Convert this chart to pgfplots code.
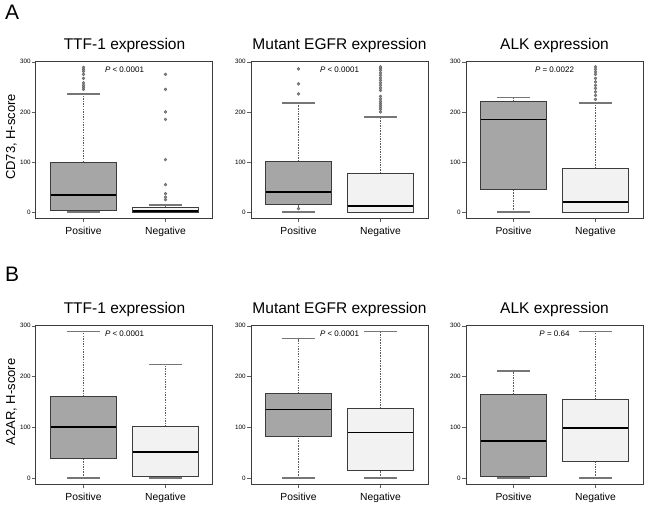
\documentclass[border=0pt]{standalone}
\usepackage{fontspec}
\setmainfont{Liberation Sans}
\usepackage{pgfplots}
\pgfplotsset{compat=1.18}
\definecolor{posfill}{HTML}{A6A6A6}
\definecolor{negfill}{HTML}{F2F2F2}
\definecolor{framec}{HTML}{3C3C3C}
\definecolor{whisk}{HTML}{5E5E5E}
\tikzset{
  wdash/.style={whisk, line width=1pt, dash pattern=on 1.5pt off 1.1pt},
  wcap/.style={whisk!85, line width=1.4pt},
  outl/.style={only marks, mark=*, mark size=1.5pt, mark options={fill=whisk!75, draw=whisk, line width=0.3pt}},
}
\pgfplotsset{
  myax/.style={
    scale only axis, width=177pt,
    xmin=0.42, xmax=2.58, ymin=-11.6, ymax=301.6,
    xtick={1,2}, xticklabels={Positive,Negative},
    ytick={0,100,200,300},
    tick align=outside, tick pos=left,
    major tick length=4pt,
    axis line style={draw=framec, line width=1pt},
    every tick/.style={whisk, line width=0.6pt},
    yticklabel style={font=\fontsize{6.3}{7}\selectfont, inner sep=1.2pt},
    xticklabel style={font=\fontsize{10.3}{12}\selectfont, yshift=-1pt},
    /pgf/number format/assume math mode=true,
    clip=false,
  },
}
% box at position 1 (Positive): lw, q1, med, q3, uw
\newcommand{\bxP}[5]{%
 \addplot[wdash] coordinates {(1,#1)(1,#2)};
 \addplot[wdash] coordinates {(1,#4)(1,#5)};
 \addplot[wcap] coordinates {(0.8,#1)(1.2,#1)};
 \addplot[wcap] coordinates {(0.8,#5)(1.2,#5)};
 \addplot[draw=framec, line width=0.8pt, fill=posfill] coordinates {(0.6,#2)(1.4,#2)(1.4,#4)(0.6,#4)} --cycle;
 \addplot[black, line width=1.8pt] coordinates {(0.6,#3)(1.4,#3)};
}
% box at position 2 (Negative)
\newcommand{\bxN}[5]{%
 \addplot[wdash] coordinates {(2,#1)(2,#2)};
 \addplot[wdash] coordinates {(2,#4)(2,#5)};
 \addplot[wcap] coordinates {(1.8,#1)(2.2,#1)};
 \addplot[wcap] coordinates {(1.8,#5)(2.2,#5)};
 \addplot[draw=framec, line width=0.8pt, fill=negfill] coordinates {(1.6,#2)(2.4,#2)(2.4,#4)(1.6,#4)} --cycle;
 \addplot[black, line width=1.8pt] coordinates {(1.6,#3)(2.4,#3)};
}
\newcommand{\ttl}[1]{\node[anchor=base, yshift=12pt, font=\fontsize{15.5}{18}\selectfont] at (rel axis cs:0.5,1) {#1};}
\newcommand{\pval}[1]{\node[font=\fontsize{8}{9}\selectfont] at (axis cs:1.5,284) {#1};}
\begin{document}
\begin{tikzpicture}
\path[use as bounding box] (0,0) rectangle (650pt,-506pt);
\node[anchor=north west, font=\fontsize{21}{24}\selectfont, inner sep=0pt] at (5pt,-5pt) {A};
\node[anchor=north west, font=\fontsize{21}{24}\selectfont, inner sep=0pt] at (5pt,-267pt) {B};
\node[rotate=90, font=\fontsize{13}{15}\selectfont] at (11.5pt,-137pt) {CD73, H-score};
\node[rotate=90, font=\fontsize{13}{15}\selectfont] at (11.5pt,-402pt) {A2AR, H-score};

% ---------------- Row A ----------------
\begin{axis}[myax, height=157pt, at={(36pt,-61pt)}, anchor=north west]
\ttl{TTF-1 expression}
\bxP{0}{4}{35}{100}{236}
\addplot[outl] coordinates {(1,245)(1,249)(1,253)(1,258)(1,267)(1,275)(1,281)(1,285)(1,289)};
\bxN{0}{0}{2}{9}{14}
\addplot[outl] coordinates {(2,25)(2,30)(2,37)(2,55)(2,105)(2,185)(2,200)(2,245)(2,275)};
\pval{\textit{P} < 0.0001}
\end{axis}

\begin{axis}[myax, height=157pt, at={(251pt,-61pt)}, anchor=north west]
\ttl{Mutant EGFR expression}
\bxP{0}{15}{41}{101}{218}
\addplot[outl] coordinates {(1,7)(1,236)(1,256)(1,286)};
\bxN{0}{0}{13}{77}{190}
\addplot[outl] coordinates {(2,200)(2,205)(2,209)(2,213)(2,217)(2,221)(2,226)(2,231)(2,243)(2,248)(2,253)(2,258)(2,263)(2,268)(2,273)(2,278)(2,283)(2,287)(2,290)};
\pval{\textit{P} < 0.0001}
\end{axis}

\begin{axis}[myax, height=157pt, at={(466pt,-61pt)}, anchor=north west]
\ttl{ALK expression}
\bxP{0}{45}{185}{221}{229}
\bxN{0}{0}{21}{87}{218}
\addplot[outl] coordinates {(2,225)(2,233)(2,240)(2,247)(2,253)(2,260)(2,267)(2,275)(2,280)(2,285)(2,290)};
\pval{\textit{P} = 0.0022}
\end{axis}

% ---------------- Row B ----------------
\begin{axis}[myax, height=159pt, at={(36pt,-325pt)}, anchor=north west]
\ttl{TTF-1 expression}
\bxP{0}{38}{100}{160}{289}
\bxN{0}{3}{52}{101}{224}
\pval{\textit{P} < 0.0001}
\end{axis}

\begin{axis}[myax, height=159pt, at={(251pt,-325pt)}, anchor=north west]
\ttl{Mutant EGFR expression}
\bxP{0}{82}{135}{166}{275}
\bxN{0}{16}{90}{137}{289}
\pval{\textit{P} < 0.0001}
\end{axis}

\begin{axis}[myax, height=159pt, at={(466pt,-325pt)}, anchor=north west]
\ttl{ALK expression}
\bxP{0}{3}{73}{165}{211}
\bxN{0}{33}{98}{155}{289}
\pval{\textit{P} = 0.64}
\end{axis}
\end{tikzpicture}
\end{document}
